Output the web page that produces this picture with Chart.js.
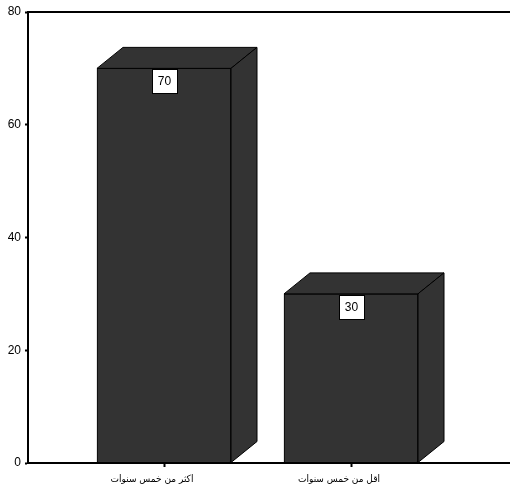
<!DOCTYPE html>
<html>
<head>
<meta charset="utf-8">
<script src="https://cdn.jsdelivr.net/npm/chart.js@4.4.0/dist/chart.umd.min.js"></script>
<style>
  html, body { margin: 0; padding: 0; background: #fff; }
  #wrap { width: 510px; height: 491px; }
</style>
</head>
<body>
<div id="wrap"><canvas id="c" width="510" height="491"></canvas></div>
<script>
// Category names and percentages
const categories = ['اكثر من خمس سنوات', 'اقل من خمس سنوات'];
const positions = [1, 2];
const percents = [70, 30];
const yTicks = [0, 20, 40, 60, 80];

const FACE = '#333333';
const EDGE = '#000000';
const DEPTH_X = 26;
const DEPTH_Y = 21;

// Top and right faces of each bar, plus the boxed value labels
const boxes3d = {
  id: 'boxes3d',
  afterDatasetsDraw(chart) {
    const ctx = chart.ctx;
    const meta = chart.getDatasetMeta(0);
    ctx.save();
    ctx.lineWidth = 1;
    ctx.strokeStyle = EDGE;
    ctx.fillStyle = FACE;
    meta.data.forEach((bar) => {
      const l = bar.x - bar.width / 2;
      const r = bar.x + bar.width / 2;
      const t = bar.y;
      const b = bar.base;
      // top face
      ctx.beginPath();
      ctx.moveTo(l, t);
      ctx.lineTo(l + DEPTH_X, t - DEPTH_Y);
      ctx.lineTo(r + DEPTH_X, t - DEPTH_Y);
      ctx.lineTo(r, t);
      ctx.closePath();
      ctx.fill();
      ctx.stroke();
      // right face
      ctx.beginPath();
      ctx.moveTo(r, t);
      ctx.lineTo(r + DEPTH_X, t - DEPTH_Y);
      ctx.lineTo(r + DEPTH_X, b - DEPTH_Y);
      ctx.lineTo(r, b);
      ctx.closePath();
      ctx.fill();
      ctx.stroke();
    });
    // value labels
    ctx.font = '12px "Liberation Sans", Arial, sans-serif';
    ctx.textAlign = 'center';
    ctx.textBaseline = 'middle';
    meta.data.forEach((bar, i) => {
      const txt = String(percents[i]);
      const w = 25, h = 24;
      const x0 = Math.round(bar.x - w / 2) + 0.5;
      const y0 = Math.round(bar.y) + 1.5;
      ctx.fillStyle = '#ffffff';
      ctx.fillRect(x0, y0, w, h);
      ctx.strokeStyle = EDGE;
      ctx.strokeRect(x0, y0, w, h);
      ctx.fillStyle = '#000000';
      ctx.fillText(txt, bar.x + 0.5, y0 + h / 2 + 0.5);
    });
    ctx.restore();
  },
  afterDraw(chart) {
    // frame line along the top of the plot
    const ctx = chart.ctx;
    const a = chart.chartArea;
    ctx.save();
    ctx.strokeStyle = '#000';
    ctx.lineWidth = 2;
    ctx.beginPath();
    ctx.moveTo(a.left - 1, a.top);
    ctx.lineTo(chart.width, a.top);
    ctx.stroke();
    ctx.restore();
  }
};

new Chart(document.getElementById('c'), {
  type: 'bar',
  data: {
    datasets: [{
      data: positions.map((p, i) => ({ x: p, y: percents[i] })),
      backgroundColor: FACE,
      borderColor: EDGE,
      borderWidth: 1,
      borderSkipped: false,
      barThickness: 134
    }]
  },
  plugins: [boxes3d],
  options: {
    responsive: false,
    animation: false,
    events: [],
    layout: { padding: { top: 12, right: 0, left: 0, bottom: 0 } },
    plugins: { legend: { display: false }, tooltip: { enabled: false } },
    scales: {
      x: {
        type: 'linear',
        offset: false,
        min: 1 - 136 / 187,
        max: 2 + 159 / 187,
        afterBuildTicks(scale) { scale.ticks = positions.map(v => ({ value: v })); },
        afterFit(scale) { scale.height = 28; },
        border: { display: true, color: '#000', width: 2 },
        grid: { offset: false, drawOnChartArea: false, drawTicks: true, tickLength: 4, tickWidth: 2, color: '#000' },
        ticks: {
          color: '#000',
          padding: 6,
          labelOffset: -12,
          font: { family: '"DejaVu Sans Condensed", "DejaVu Sans", sans-serif', size: 10 },
          callback: (v) => categories[positions.indexOf(v)] || ''
        }
      },
      y: {
        min: 0,
        max: 80,
        afterBuildTicks(scale) { scale.ticks = yTicks.map(v => ({ value: v })); },
        afterFit(scale) { scale.width = 28; },
        border: { display: true, color: '#000', width: 2 },
        grid: { drawOnChartArea: false, drawTicks: true, tickLength: 3, tickWidth: 2, color: '#000' },
        ticks: {
          color: '#000',
          padding: 4,
          font: { family: '"Liberation Sans", Arial, sans-serif', size: 12 }
        }
      }
    }
  }
});
</script>
</body>
</html>
